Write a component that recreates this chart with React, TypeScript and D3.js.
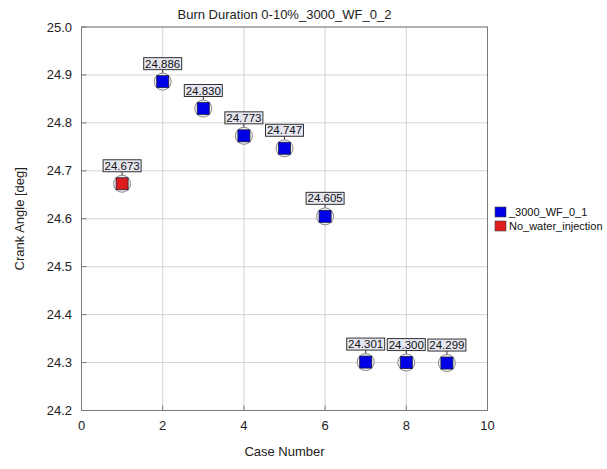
import React from "react";
import * as d3 from "d3";

const title = "Burn Duration 0-10%_3000_WF_0_2";
const xLabel = "Case Number";
const yLabel = "Crank Angle [deg]";
const caseNumbers = [1, 2, 3, 4, 5, 6, 7, 8, 9];
const values = [24.673, 24.886, 24.83, 24.773, 24.747, 24.605, 24.301, 24.3, 24.299];
const seriesOf = ["No_water_injection", "_3000_WF_0_1", "_3000_WF_0_1", "_3000_WF_0_1", "_3000_WF_0_1", "_3000_WF_0_1", "_3000_WF_0_1", "_3000_WF_0_1", "_3000_WF_0_1"];
const legendNames = ["_3000_WF_0_1", "No_water_injection"];
const legendColors = ["#0000e6", "#dd1c1c"];
const xTicks = [0, 2, 4, 6, 8, 10];
const yTicks = [24.2, 24.3, 24.4, 24.5, 24.6, 24.7, 24.8, 24.9, 25.0];

const W = 607;
const H = 469;
const left = 81.5;
const right = 487.5;
const top = 27;
const bottom = 410.5;
const font = "'Liberation Sans', Arial, sans-serif";

export default function App() {
  const x = d3.scaleLinear().domain([0, 10]).range([left, right]);
  const y = d3.scaleLinear().domain([24.2, 25.0]).range([bottom, top]);
  const color = d3.scaleOrdinal<string, string>().domain(legendNames).range(legendColors);
  return (
    <svg width={W} height={H} style={{ position: "absolute", left: 0, top: 0, background: "#fff" }} fontFamily={font}>
      <rect x={0} y={0} width={W} height={H} fill="#fff" />
      {xTicks.map((t) => (
        <line key={"gx" + t} x1={x(t)} x2={x(t)} y1={top} y2={bottom} stroke="#d4d4d4" strokeWidth={1} />
      ))}
      {yTicks.map((t) => (
        <line key={"gy" + t} x1={left} x2={right} y1={y(t)} y2={y(t)} stroke="#d4d4d4" strokeWidth={1} />
      ))}
      <rect x={left} y={top} width={right - left} height={bottom - top} fill="none" stroke="#7a7a7a" strokeWidth={1} />
      {xTicks.map((t) => (
        <line key={"tx" + t} x1={x(t)} x2={x(t)} y1={bottom} y2={bottom - 5} stroke="#7a7a7a" />
      ))}
      {yTicks.map((t) => (
        <line key={"ty" + t} x1={left} x2={left + 5} y1={y(t)} y2={y(t)} stroke="#7a7a7a" />
      ))}
      {yTicks.map((t) => (
        <text key={"ly" + t} x={72} y={y(t)} dy="0.35em" textAnchor="end" fontSize={13} fill="#222">
          {d3.format(".1f")(t)}
        </text>
      ))}
      {xTicks.map((t) => (
        <text key={"lx" + t} x={x(t)} y={430} textAnchor="middle" fontSize={13} fill="#222">
          {t}
        </text>
      ))}
      <text x={(left + right) / 2} y={19} textAnchor="middle" fontSize={13} fill="#222">
        {title}
      </text>
      <text x={(left + right) / 2} y={456} textAnchor="middle" fontSize={13} fill="#222">
        {xLabel}
      </text>
      <text
        transform={`translate(24,${(top + bottom) / 2}) rotate(-90)`}
        textAnchor="middle"
        fontSize={13}
        fill="#222"
      >
        {yLabel}
      </text>
      {caseNumbers.map((c, i) => {
        const cx = x(c);
        const cy = y(values[i]);
        const label = d3.format(".3f")(values[i]);
        const bw = 38;
        const bh = 12;
        return (
          <g key={"p" + c}>
            <line x1={cx} x2={cx} y1={cy - 12} y2={cy - 6} stroke="#333" strokeWidth={1} />
            <circle cx={cx} cy={cy} r={8.5} fill="#f2f2f2" stroke="#888" strokeWidth={1} />
            <rect x={cx - 6} y={cy - 6} width={12} height={12} fill={color(seriesOf[i])} stroke="#1a1a40" strokeWidth={0.8} />
            <rect x={cx - bw / 2} y={cy - 12 - bh} width={bw} height={bh} fill="#e6e6f0" stroke="#333" strokeWidth={1} />
            <text x={cx} y={cy - 12 - bh / 2} dy="0.36em" textAnchor="middle" fontSize={11.5} fill="#111">
              {label}
            </text>
          </g>
        );
      })}
      {legendNames.map((n, i) => (
        <g key={"lg" + n}>
          <rect x={495} y={207 + i * 14} width={11} height={10} fill={legendColors[i]} stroke="#444" strokeWidth={0.6} />
          <text x={509} y={216 + i * 14} fontSize={11} fill="#111">
            {n}
          </text>
        </g>
      ))}
    </svg>
  );
}
